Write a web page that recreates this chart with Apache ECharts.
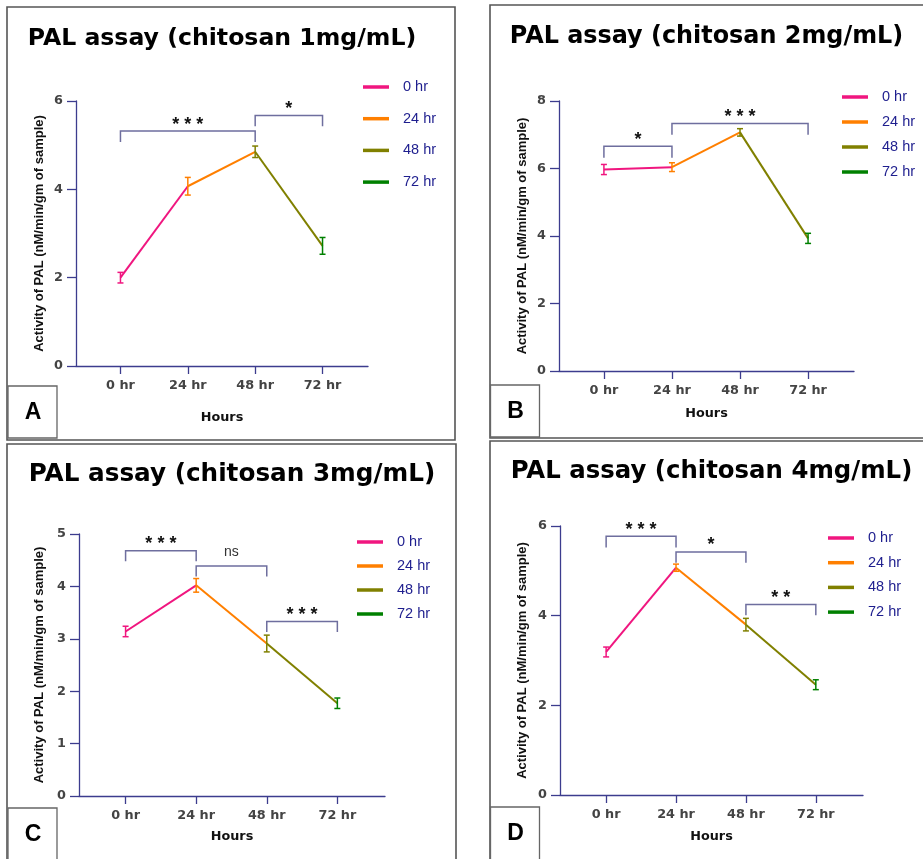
<!DOCTYPE html>
<html>
<head>
<meta charset="utf-8">
<script src="https://cdn.jsdelivr.net/npm/echarts@6/dist/echarts.min.js"></script>
<style>
  html, body { margin: 0; padding: 0; background: #fff; }
  #chart { width: 923px; height: 859px; }
</style>
</head>
<body>
<div id="chart"></div>
<script>
// categories
const hours = ["0 hr", "24 hr", "48 hr", "72 hr"];
const hourColors = ["#f0167f", "#ff7f00", "#808000", "#008000"];

// mean activity and error
const meanA = [2.0, 4.07, 4.85, 2.72];
const errA = [0.12, 0.2, 0.13, 0.19];
const meanB = [5.97, 6.04, 7.07, 3.93];
const errB = [0.15, 0.13, 0.11, 0.15];
const meanC = [3.14, 4.02, 2.91, 1.77];
const errC = [0.1, 0.13, 0.16, 0.1];
const meanD = [3.19, 5.07, 3.8, 2.46];
const errD = [0.11, 0.08, 0.14, 0.11];

// significance brackets: [from, to, top, leg end]
const sigA = [[0, 2, 5.32, 5.07], [2, 3, 5.67, 5.43]];
const sigLabelsA = ["***", "*"];
const sigB = [[0, 1, 6.66, 6.32], [1, 3, 7.33, 7.0]];
const sigLabelsB = ["*", "***"];
const sigC = [[0, 1, 4.68, 4.48], [1, 2, 4.39, 4.19], [2, 3, 3.33, 3.13]];
const sigLabelsC = ["***", "ns", "***"];
const sigD = [[0, 1, 5.77, 5.52], [1, 2, 5.42, 5.18], [2, 3, 4.25, 4.01]];
const sigLabelsD = ["***", "*", "**"];

const yTitle = "Activity of PAL (nM/min/gm of sample)";

const panels = [
  { letter: "A", title: "PAL assay (chitosan 1mg/mL)", mean: meanA, err: errA, sig: sigA, sigLabels: sigLabelsA,
    yMax: 6, yStep: 2,
    grid: { left: 76, top: 101, width: 292, height: 265 },
    titlePos: [222, 39, 23.6], nameGap: [30, 45],
    legend: { left: 363, top: 79, gap: 15.7 },
    box: [8, 386, 49, 52], frame: [7, 7, 448, 433] },
  { letter: "B", title: "PAL assay (chitosan 2mg/mL)", mean: meanB, err: errB, sig: sigB, sigLabels: sigLabelsB,
    yMax: 8, yStep: 2,
    grid: { left: 559, top: 101, width: 295, height: 270 },
    titlePos: [706.5, 37, 23.9], nameGap: [30.5, 36],
    legend: { left: 842, top: 89, gap: 9 },
    box: [490.5, 385, 49, 52], frame: [490, 5, 450, 433] },
  { letter: "C", title: "PAL assay (chitosan 3mg/mL)", mean: meanC, err: errC, sig: sigC, sigLabels: sigLabelsC,
    yMax: 5, yStep: 1,
    grid: { left: 79, top: 534, width: 306, height: 262 },
    titlePos: [232, 475, 24.7], nameGap: [33, 34.5],
    legend: { left: 357, top: 534, gap: 8 },
    box: [8, 808, 49, 60], frame: [7, 444, 449, 430] },
  { letter: "D", title: "PAL assay (chitosan 4mg/mL)", mean: meanD, err: errD, sig: sigD, sigLabels: sigLabelsD,
    yMax: 6, yStep: 2,
    grid: { left: 560, top: 526, width: 303, height: 269 },
    titlePos: [711.5, 472, 24.4], nameGap: [31.5, 35],
    legend: { left: 828, top: 530, gap: 8.7 },
    box: [490.5, 807, 49, 60], frame: [490, 441, 450, 430] },
];

const axisColor = "#3c3c8e";
const tickFont = { color: "#444", fontWeight: "bold", fontFamily: "DejaVu Sans", fontSize: 12.8 };

function errorRenderer(params, api) {
  const x = api.value(0), m = api.value(1), e = api.value(2);
  const top = api.coord([x, m + e]);
  const bot = api.coord([x, m - e]);
  const st = { stroke: hourColors[params.dataIndex], lineWidth: 1.5 };
  const hw = 3;
  return {
    type: "group",
    children: [
      { type: "line", shape: { x1: top[0], y1: top[1], x2: bot[0], y2: bot[1] }, style: st },
      { type: "line", shape: { x1: top[0] - hw, y1: top[1], x2: top[0] + hw, y2: top[1] }, style: st },
      { type: "line", shape: { x1: bot[0] - hw, y1: bot[1], x2: bot[0] + hw, y2: bot[1] }, style: st },
    ],
  };
}

function bracketRenderer(labels) {
  return function (params, api) {
    const x1 = api.value(0), x2 = api.value(1), yt = api.value(2), yl = api.value(3);
    const a = api.coord([x1, yt]), b = api.coord([x2, yt]);
    const al = api.coord([x1, yl]), bl = api.coord([x2, yl]);
    const label = labels[params.dataIndex];
    const stars = label.indexOf("*") >= 0;
    return {
      type: "group",
      children: [
        { type: "polyline", shape: { points: [al, a, b, bl] },
          style: { stroke: "#6e6e9e", lineWidth: 1.5, fill: "none" } },
        { type: "text", x: (a[0] + b[0]) / 2, y: a[1] - (stars ? 6.5 : 14),
          style: {
            text: stars ? label.split("").join(" ") : label,
            fill: stars ? "#111" : "#333",
            font: stars ? "bold 18px 'Liberation Sans'" : "14px 'Liberation Sans'",
            textAlign: "center", textVerticalAlign: "middle",
          } },
      ],
    };
  };
}

const grids = [], xAxes = [], yAxes = [], series = [], legends = [], graphics = [];

panels.forEach((p, i) => {
  grids.push(Object.assign({ outerBoundsMode: "none", containLabel: false }, p.grid));

  xAxes.push({
    type: "value", gridIndex: i, min: -0.66, max: 3.675,
    name: "Hours", nameLocation: "middle", nameGap: p.nameGap[1],
    nameTextStyle: { color: "#111", fontWeight: "bold", fontFamily: "DejaVu Sans", fontSize: 12.8 },
    axisLine: { show: true, onZero: false, lineStyle: { color: axisColor, width: 1.3 } },
    axisTick: { show: true, length: 8, customValues: [0, 1, 2, 3], lineStyle: { color: axisColor, width: 1.3 } },
    axisLabel: Object.assign({ margin: 13, customValues: [0, 1, 2, 3], formatter: (v) => hours[v] }, tickFont),
    splitLine: { show: false },
  });

  yAxes.push({
    type: "value", gridIndex: i, min: 0, max: p.yMax, interval: p.yStep,
    name: yTitle, nameLocation: "middle", nameGap: p.nameGap[0], nameRotate: 90,
    nameTextStyle: { color: "#111", fontWeight: "bold", fontFamily: "Liberation Sans", fontSize: 13 },
    axisLine: { show: true, onZero: false, lineStyle: { color: axisColor, width: 1.3 } },
    axisTick: { show: true, length: 9, lineStyle: { color: axisColor, width: 1.3 } },
    axisLabel: Object.assign({ margin: 13 }, tickFont),
    splitLine: { show: false },
  });

  hours.forEach((h, k) => {
    const pts = [[k, p.mean[k]]];
    if (k < hours.length - 1) pts.push([k + 1, p.mean[k + 1]]);
    series.push({
      type: "line", name: h, xAxisIndex: i, yAxisIndex: i,
      data: pts, symbol: "none", showSymbol: false,
      color: hourColors[k],
      lineStyle: { color: hourColors[k], width: 2 },
      itemStyle: { color: hourColors[k] },
      z: 2, silent: true,
    });
  });

  series.push({
    type: "custom", xAxisIndex: i, yAxisIndex: i, z: 4, silent: true,
    data: p.mean.map((m, k) => [k, m, p.err[k]]),
    renderItem: errorRenderer,
  });

  series.push({
    type: "custom", xAxisIndex: i, yAxisIndex: i, z: 3, silent: true,
    data: p.sig,
    renderItem: bracketRenderer(p.sigLabels),
  });

  legends.push({
    orient: "vertical", left: p.legend.left, top: p.legend.top, padding: 0,
    itemGap: p.legend.gap, itemWidth: 26, itemHeight: 3.5, icon: "rect",
    data: hours, selectedMode: false,
    textStyle: { color: "#1e1e8e", fontSize: 14.5, fontFamily: "Liberation Sans", lineHeight: 16, padding: [0, 0, 0, 9] },
  });

  const f = p.frame;
  graphics.push({
    type: "rect", silent: true, z: 0,
    shape: { x: f[0], y: f[1], width: f[2], height: f[3] },
    style: { fill: "none", stroke: "#555", lineWidth: 1.6 },
  });
  const bx = p.box;
  graphics.push({
    type: "rect", silent: true, z: 1,
    shape: { x: bx[0], y: bx[1], width: bx[2], height: bx[3] },
    style: { fill: "#fff", stroke: "#666", lineWidth: 1.3 },
  });
  graphics.push({
    type: "text", silent: true, z: 2,
    x: bx[0] + 25, y: bx[1] + 26.5,
    style: { text: p.letter, font: "bold 23px 'Liberation Sans'", fill: "#000",
      textAlign: "center", textVerticalAlign: "middle" },
  });
  graphics.push({
    type: "text", silent: true, z: 2,
    x: p.titlePos[0], y: p.titlePos[1],
    style: { text: p.title, font: "bold " + p.titlePos[2] + "px 'DejaVu Sans'", fill: "#000",
      textAlign: "center", textVerticalAlign: "middle" },
  });
});

const chart = echarts.init(document.getElementById("chart"));
chart.setOption({
  animation: false,
  backgroundColor: "#fff",
  grid: grids,
  xAxis: xAxes,
  yAxis: yAxes,
  legend: legends,
  series: series,
  graphic: graphics,
});
</script>
</body>
</html>
